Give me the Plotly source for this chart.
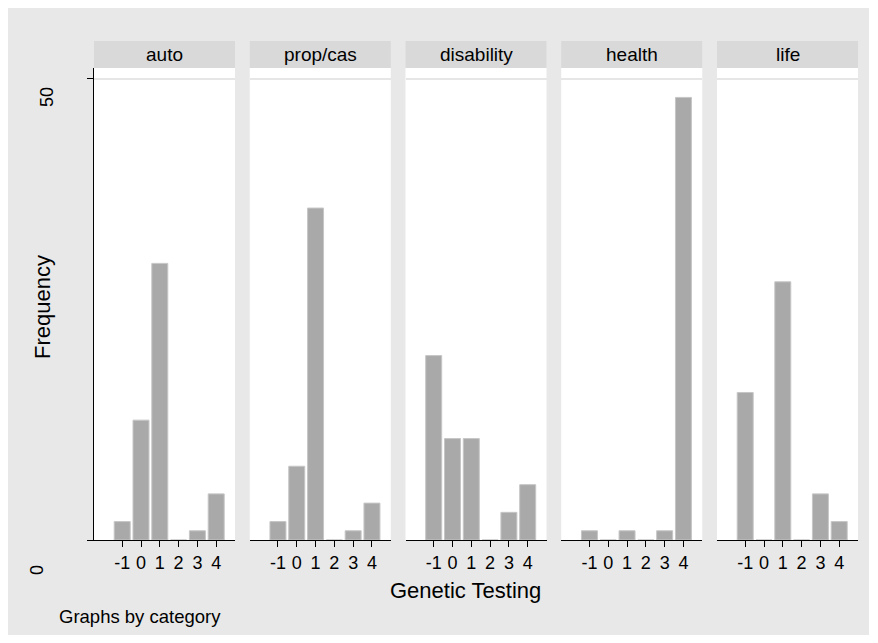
import plotly.graph_objects as go

categories = ["auto", "prop/cas", "disability", "health", "life"]
x_values = [-1, 0, 1, 2, 3, 4]
tick_labels = ["-1", "0", "1", "2", "3", "4"]
freq_auto = [2, 13, 30, 0, 1, 5]
freq_propcas = [2, 8, 36, 0, 1, 4]
freq_disability = [20, 11, 11, 0, 3, 6]
freq_health = [1, 0, 1, 0, 1, 48]
freq_life = [16, 0, 28, 0, 5, 2]
series = [freq_auto, freq_propcas, freq_disability, freq_health, freq_life]
y_ticks = [0, 50]

OFF = 8  # page body margin
W, H = 861, 627
L, T = 94 - OFF, 68 - OFF
R = W - (858 - OFF)
B = H - (540 - OFF)
PW = W - L - R
PH = H - T - B
panel_w = 141
gap = (PW - 5 * panel_w) / 4

FONT = "Liberation Sans, Arial, sans-serif"
BG = "#e8e8e8"
STRIP = "#d9d9d9"

def px_x(p):
    return (p - OFF - L) / PW

def px_y(p):
    return (H - B - (p - OFF)) / PH

fig = go.Figure()
layout = dict(
    width=W, height=H,
    margin=dict(l=L, r=R, t=T, b=B),
    paper_bgcolor=BG,
    plot_bgcolor="white",
    showlegend=False,
    font=dict(family=FONT, color="black", size=18),
)
shapes = []
annotations = []

for i, (cat, vals) in enumerate(zip(categories, series)):
    n = "" if i == 0 else str(i + 1)
    x0 = i * (panel_w + gap) / PW
    x1 = min(1.0, x0 + panel_w / PW)
    fig.add_trace(go.Bar(
        x=x_values, y=vals, width=0.85,
        marker=dict(color="#a9a9a9", line=dict(color="#c6c6c6", width=1)),
        xaxis="x" + n, yaxis="y" + n,
    ))
    layout["xaxis" + n] = dict(
        domain=[x0, x1], anchor="y" + n, range=[-2.5, 5.0],
        tickvals=x_values, ticktext=tick_labels, ticks="outside", ticklen=6,
        tickcolor="black", tickwidth=1, showline=True, linecolor="black",
        linewidth=1, showgrid=False, zeroline=False,
        tickfont=dict(size=18, family=FONT, color="black"),
        fixedrange=True,
    )
    yax = dict(
        domain=[0, 1], anchor="x" + n, range=[0, 51.19],
        tickvals=y_ticks, showticklabels=False,
        showgrid=True, gridcolor="#e6e6e6", gridwidth=2,
        zeroline=False, fixedrange=True,
    )
    if i == 0:
        yax.update(showline=True, linecolor="black", linewidth=1,
                   ticks="outside", ticklen=6, tickcolor="black", tickwidth=1)
    else:
        yax.update(showline=False, ticks="")
    layout["yaxis" + n] = yax
    shapes.append(dict(type="rect", xref="paper", yref="paper",
                       x0=x0, x1=x1, y0=1.0, y1=px_y(41),
                       fillcolor=STRIP, line=dict(width=0), layer="below"))
    annotations.append(dict(text=cat, xref="paper", yref="paper",
                            x=(x0 + x1) / 2, y=px_y(54.5), showarrow=False,
                            xanchor="center", yanchor="middle",
                            font=dict(size=19, family=FONT, color="black")))

# y tick labels (rotated, Stata style)
annotations.append(dict(text="50", xref="paper", yref="y", x=px_x(47), y=50,
                        yshift=-18, textangle=-90, showarrow=False,
                        xanchor="center", yanchor="middle",
                        font=dict(size=18, family=FONT, color="black")))
annotations.append(dict(text="0", xref="paper", yref="y", x=px_x(37), y=0,
                        yshift=-30, textangle=-90, showarrow=False,
                        xanchor="center", yanchor="middle",
                        font=dict(size=18, family=FONT, color="black")))
annotations.append(dict(text="Frequency", xref="paper", yref="paper",
                        x=px_x(42), y=px_y(307), textangle=-90, showarrow=False,
                        xanchor="center", yanchor="middle",
                        font=dict(size=22, family=FONT, color="black")))
annotations.append(dict(text="Genetic Testing", xref="paper", yref="paper",
                        x=px_x(465), y=px_y(590), showarrow=False,
                        xanchor="center", yanchor="middle",
                        font=dict(size=22, family=FONT, color="black")))
annotations.append(dict(text="Graphs by category", xref="paper", yref="paper",
                        x=px_x(57), y=px_y(616), showarrow=False,
                        xanchor="left", yanchor="middle",
                        font=dict(size=18.5, family=FONT, color="black")))

layout["shapes"] = shapes
layout["annotations"] = annotations
fig.update_layout(**layout)
fig.write_html("out.html")
